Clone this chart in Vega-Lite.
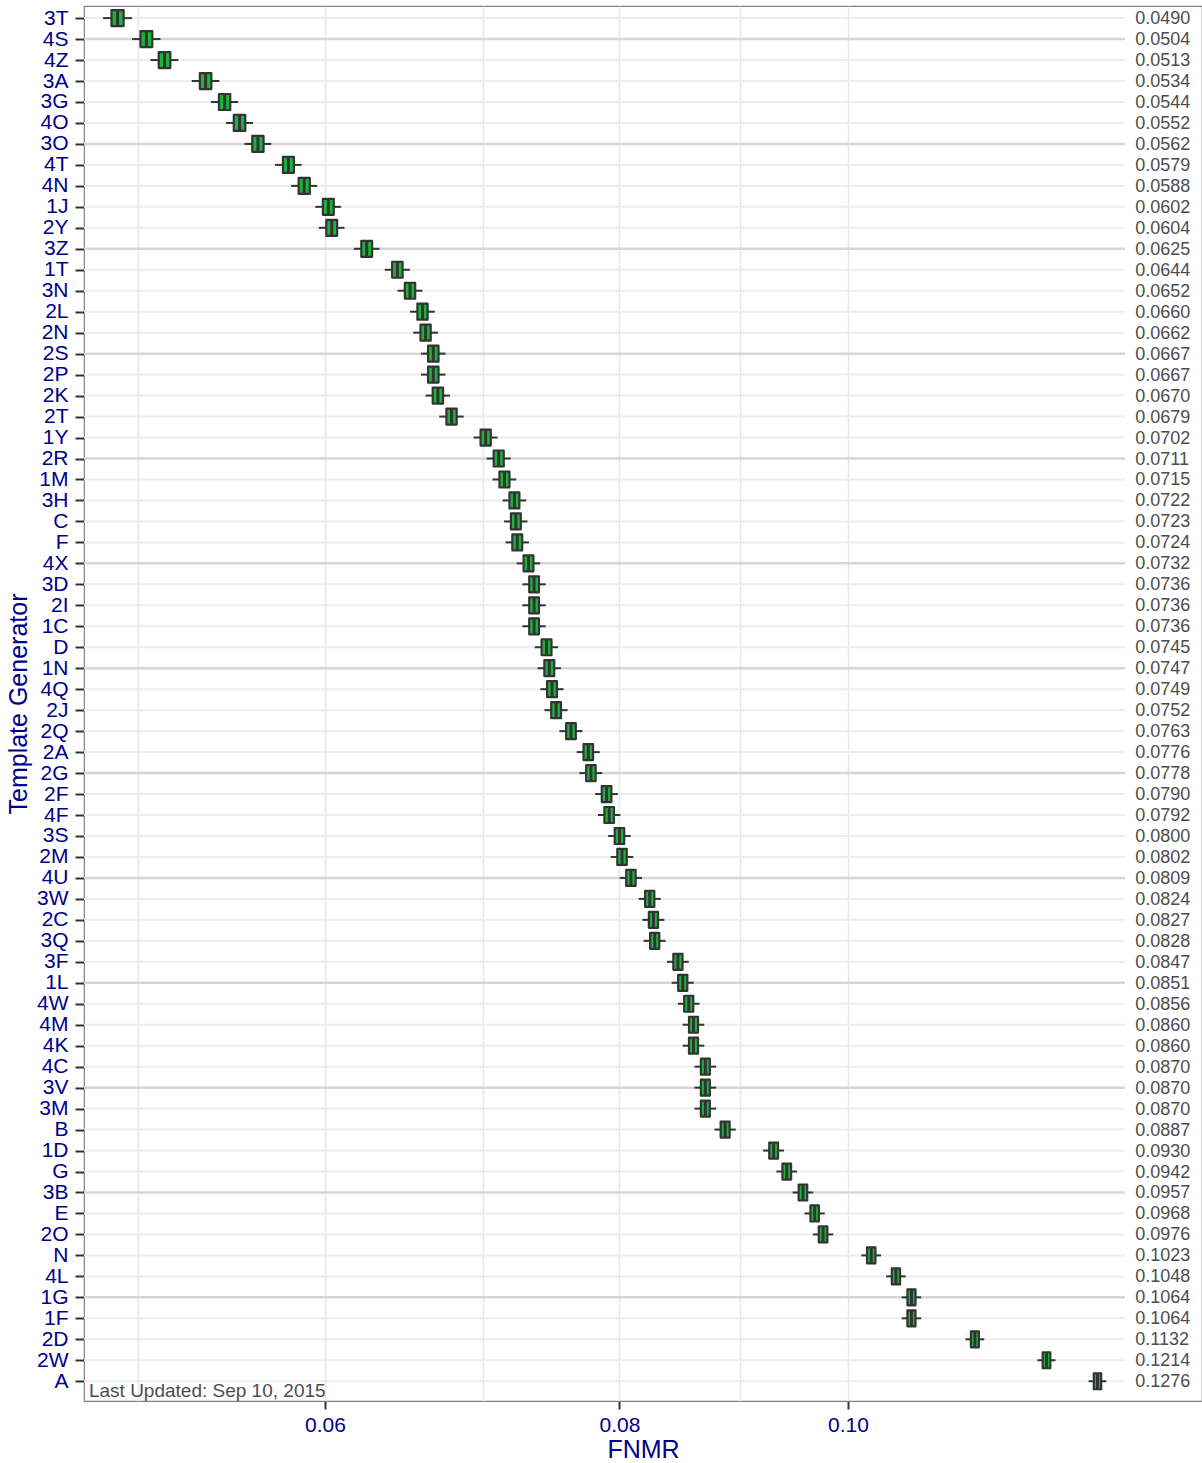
{
  "$schema": "https://vega.github.io/schema/vega-lite/v6.json",
  "autosize": {"type": "none"},
  "padding": {"left": 84, "top": 6, "right": 0, "bottom": 62},
  "width": 1118,
  "height": 1395,
  "background": "white",
  "config": {
    "font": "Liberation Sans",
    "view": {"stroke": "#808080", "strokeWidth": 1.2}
  },
  "data": {"values": [
    {"g": "3T", "fnmr": 0.0490, "lo": 0.04831, "q1": 0.04871, "q3": 0.04929, "hi": 0.04969},
    {"g": "4S", "fnmr": 0.0504, "lo": 0.04970, "q1": 0.05011, "q3": 0.05069, "hi": 0.05110},
    {"g": "4Z", "fnmr": 0.0513, "lo": 0.05060, "q1": 0.05101, "q3": 0.05159, "hi": 0.05200},
    {"g": "3A", "fnmr": 0.0534, "lo": 0.05268, "q1": 0.05310, "q3": 0.05370, "hi": 0.05412},
    {"g": "3G", "fnmr": 0.0544, "lo": 0.05368, "q1": 0.05410, "q3": 0.05470, "hi": 0.05512},
    {"g": "4O", "fnmr": 0.0552, "lo": 0.05447, "q1": 0.05489, "q3": 0.05551, "hi": 0.05593},
    {"g": "3O", "fnmr": 0.0562, "lo": 0.05546, "q1": 0.05589, "q3": 0.05651, "hi": 0.05694},
    {"g": "4T", "fnmr": 0.0579, "lo": 0.05715, "q1": 0.05759, "q3": 0.05821, "hi": 0.05865},
    {"g": "4N", "fnmr": 0.0588, "lo": 0.05805, "q1": 0.05848, "q3": 0.05912, "hi": 0.05955},
    {"g": "1J", "fnmr": 0.0602, "lo": 0.05944, "q1": 0.05988, "q3": 0.06052, "hi": 0.06096},
    {"g": "2Y", "fnmr": 0.0604, "lo": 0.05964, "q1": 0.06008, "q3": 0.06072, "hi": 0.06116},
    {"g": "3Z", "fnmr": 0.0625, "lo": 0.06172, "q1": 0.06217, "q3": 0.06283, "hi": 0.06328},
    {"g": "1T", "fnmr": 0.0644, "lo": 0.06361, "q1": 0.06407, "q3": 0.06473, "hi": 0.06519},
    {"g": "3N", "fnmr": 0.0652, "lo": 0.06441, "q1": 0.06487, "q3": 0.06553, "hi": 0.06599},
    {"g": "2L", "fnmr": 0.0660, "lo": 0.06520, "q1": 0.06567, "q3": 0.06633, "hi": 0.06680},
    {"g": "2N", "fnmr": 0.0662, "lo": 0.06540, "q1": 0.06587, "q3": 0.06653, "hi": 0.06700},
    {"g": "2S", "fnmr": 0.0667, "lo": 0.06590, "q1": 0.06636, "q3": 0.06704, "hi": 0.06750},
    {"g": "2P", "fnmr": 0.0667, "lo": 0.06590, "q1": 0.06636, "q3": 0.06704, "hi": 0.06750},
    {"g": "2K", "fnmr": 0.0670, "lo": 0.06620, "q1": 0.06666, "q3": 0.06734, "hi": 0.06780},
    {"g": "2T", "fnmr": 0.0679, "lo": 0.06709, "q1": 0.06756, "q3": 0.06824, "hi": 0.06871},
    {"g": "1Y", "fnmr": 0.0702, "lo": 0.06938, "q1": 0.06985, "q3": 0.07055, "hi": 0.07102},
    {"g": "2R", "fnmr": 0.0711, "lo": 0.07027, "q1": 0.07075, "q3": 0.07145, "hi": 0.07193},
    {"g": "1M", "fnmr": 0.0715, "lo": 0.07067, "q1": 0.07115, "q3": 0.07185, "hi": 0.07233},
    {"g": "3H", "fnmr": 0.0722, "lo": 0.07137, "q1": 0.07185, "q3": 0.07255, "hi": 0.07303},
    {"g": "C", "fnmr": 0.0723, "lo": 0.07147, "q1": 0.07195, "q3": 0.07265, "hi": 0.07313},
    {"g": "F", "fnmr": 0.0724, "lo": 0.07157, "q1": 0.07205, "q3": 0.07275, "hi": 0.07323},
    {"g": "4X", "fnmr": 0.0732, "lo": 0.07236, "q1": 0.07285, "q3": 0.07355, "hi": 0.07404},
    {"g": "3D", "fnmr": 0.0736, "lo": 0.07276, "q1": 0.07325, "q3": 0.07395, "hi": 0.07444},
    {"g": "2I", "fnmr": 0.0736, "lo": 0.07276, "q1": 0.07325, "q3": 0.07395, "hi": 0.07444},
    {"g": "1C", "fnmr": 0.0736, "lo": 0.07276, "q1": 0.07325, "q3": 0.07395, "hi": 0.07444},
    {"g": "D", "fnmr": 0.0745, "lo": 0.07365, "q1": 0.07414, "q3": 0.07486, "hi": 0.07535},
    {"g": "1N", "fnmr": 0.0747, "lo": 0.07385, "q1": 0.07434, "q3": 0.07506, "hi": 0.07555},
    {"g": "4Q", "fnmr": 0.0749, "lo": 0.07405, "q1": 0.07454, "q3": 0.07526, "hi": 0.07575},
    {"g": "2J", "fnmr": 0.0752, "lo": 0.07435, "q1": 0.07484, "q3": 0.07556, "hi": 0.07605},
    {"g": "2Q", "fnmr": 0.0763, "lo": 0.07544, "q1": 0.07594, "q3": 0.07666, "hi": 0.07716},
    {"g": "2A", "fnmr": 0.0776, "lo": 0.07673, "q1": 0.07724, "q3": 0.07796, "hi": 0.07847},
    {"g": "2G", "fnmr": 0.0778, "lo": 0.07693, "q1": 0.07744, "q3": 0.07816, "hi": 0.07867},
    {"g": "2F", "fnmr": 0.0790, "lo": 0.07813, "q1": 0.07863, "q3": 0.07937, "hi": 0.07987},
    {"g": "4F", "fnmr": 0.0792, "lo": 0.07833, "q1": 0.07883, "q3": 0.07957, "hi": 0.08007},
    {"g": "3S", "fnmr": 0.0800, "lo": 0.07912, "q1": 0.07963, "q3": 0.08037, "hi": 0.08088},
    {"g": "2M", "fnmr": 0.0802, "lo": 0.07932, "q1": 0.07983, "q3": 0.08057, "hi": 0.08108},
    {"g": "4U", "fnmr": 0.0809, "lo": 0.08002, "q1": 0.08053, "q3": 0.08127, "hi": 0.08178},
    {"g": "3W", "fnmr": 0.0824, "lo": 0.08151, "q1": 0.08203, "q3": 0.08277, "hi": 0.08329},
    {"g": "2C", "fnmr": 0.0827, "lo": 0.08181, "q1": 0.08233, "q3": 0.08307, "hi": 0.08359},
    {"g": "3Q", "fnmr": 0.0828, "lo": 0.08191, "q1": 0.08243, "q3": 0.08317, "hi": 0.08369},
    {"g": "3F", "fnmr": 0.0847, "lo": 0.08380, "q1": 0.08432, "q3": 0.08508, "hi": 0.08560},
    {"g": "1L", "fnmr": 0.0851, "lo": 0.08419, "q1": 0.08472, "q3": 0.08548, "hi": 0.08601},
    {"g": "4W", "fnmr": 0.0856, "lo": 0.08469, "q1": 0.08522, "q3": 0.08598, "hi": 0.08651},
    {"g": "4M", "fnmr": 0.0860, "lo": 0.08509, "q1": 0.08562, "q3": 0.08638, "hi": 0.08691},
    {"g": "4K", "fnmr": 0.0860, "lo": 0.08509, "q1": 0.08562, "q3": 0.08638, "hi": 0.08691},
    {"g": "4C", "fnmr": 0.0870, "lo": 0.08608, "q1": 0.08662, "q3": 0.08738, "hi": 0.08792},
    {"g": "3V", "fnmr": 0.0870, "lo": 0.08608, "q1": 0.08662, "q3": 0.08738, "hi": 0.08792},
    {"g": "3M", "fnmr": 0.0870, "lo": 0.08608, "q1": 0.08662, "q3": 0.08738, "hi": 0.08792},
    {"g": "B", "fnmr": 0.0887, "lo": 0.08778, "q1": 0.08831, "q3": 0.08909, "hi": 0.08962},
    {"g": "1D", "fnmr": 0.0930, "lo": 0.09205, "q1": 0.09260, "q3": 0.09340, "hi": 0.09395},
    {"g": "G", "fnmr": 0.0942, "lo": 0.09325, "q1": 0.09380, "q3": 0.09460, "hi": 0.09515},
    {"g": "3B", "fnmr": 0.0957, "lo": 0.09474, "q1": 0.09530, "q3": 0.09610, "hi": 0.09666},
    {"g": "E", "fnmr": 0.0968, "lo": 0.09584, "q1": 0.09640, "q3": 0.09720, "hi": 0.09776},
    {"g": "2O", "fnmr": 0.0976, "lo": 0.09663, "q1": 0.09719, "q3": 0.09801, "hi": 0.09857},
    {"g": "N", "fnmr": 0.1023, "lo": 0.10131, "q1": 0.10188, "q3": 0.10272, "hi": 0.10329},
    {"g": "4L", "fnmr": 0.1048, "lo": 0.10380, "q1": 0.10438, "q3": 0.10522, "hi": 0.10580},
    {"g": "1G", "fnmr": 0.1064, "lo": 0.10539, "q1": 0.10598, "q3": 0.10682, "hi": 0.10741},
    {"g": "1F", "fnmr": 0.1064, "lo": 0.10539, "q1": 0.10598, "q3": 0.10682, "hi": 0.10741},
    {"g": "2D", "fnmr": 0.1132, "lo": 0.11216, "q1": 0.11276, "q3": 0.11364, "hi": 0.11424},
    {"g": "2W", "fnmr": 0.1214, "lo": 0.12032, "q1": 0.12095, "q3": 0.12185, "hi": 0.12248},
    {"g": "A", "fnmr": 0.1276, "lo": 0.12649, "q1": 0.12714, "q3": 0.12806, "hi": 0.12871}
  ]},
  "encoding": {
    "y": {
      "field": "g", "type": "nominal", "sort": null,
      "scale": {"type": "point", "padding": 0.76, "align": 0.38},
      "axis": {
        "title": "Template Generator", "titleFontSize": 25, "titleFontWeight": "normal", "titleColor": "#00008B", "titlePadding": 5,
        "labelFontSize": 21, "labelColor": "#00008B", "labelPadding": 7,
        "tickColor": "#333333", "tickWidth": 2, "tickSize": 9,
        "domain": false, "grid": false
      }
    }
  },
  "layer": [
    {
      "mark": {"type": "rule"},
      "encoding": {
        "x": {"datum": 0.04742, "type": "quantitative", "scale": {"type": "log", "domain": [0.04742, 0.14131], "nice": false, "zero": false},
          "axis": {
            "title": "FNMR", "titleFontSize": 25, "titleFontWeight": "normal", "titleColor": "#00008B", "titlePadding": 2,
            "values": [0.05, 0.06, 0.07, 0.08, 0.09, 0.1],
            "labelExpr": "indexof([0.06, 0.08, 0.1], datum.value) >= 0 ? format(datum.value, '.2f') : ''",
            "labelFontSize": 21, "labelColor": "#00008B", "labelPadding": 5,
            "tickColor": "#333333", "tickWidth": 2, "tickSize": 8,
            "tickOpacity": {"condition": {"test": "indexof([0.06, 0.08, 0.1], datum.value) >= 0", "value": 1}, "value": 0},
            "grid": true, "gridColor": "#E8E8E8", "gridWidth": 1.5,
            "domain": false
          }
        },
        "x2": {"datum": 0.13107},
        "color": {"condition": {"test": "indexof(['4S','3O','3Z','2S','2R','4X','1N','2G','4U','1L','3V','3B','1G'], datum.g) >= 0", "value": "#D6D6D6"}, "value": "#EDEDED"},
        "strokeWidth": {"condition": {"test": "indexof(['4S','3O','3Z','2S','2R','4X','1N','2G','4U','1L','3V','3B','1G'], datum.g) >= 0", "value": 2.5}, "value": 2}
      }
    },
    {
      "mark": {"type": "rule", "color": "#333333", "strokeWidth": 2},
      "encoding": {
        "x": {"field": "lo", "type": "quantitative", "scale": {"type": "log", "domain": [0.04742, 0.14131], "nice": false, "zero": false}, "axis": {"title": "FNMR"}},
        "x2": {"field": "hi"}
      }
    },
    {
      "mark": {"type": "bar", "height": 16, "fill": "#1CB43A", "stroke": "#333333", "strokeWidth": 2.2, "strokeJoin": "round"},
      "encoding": {
        "x": {"field": "q1", "type": "quantitative", "scale": {"type": "log", "domain": [0.04742, 0.14131], "nice": false, "zero": false}, "axis": {"title": "FNMR"}},
        "x2": {"field": "q3"}
      }
    },
    {
      "mark": {"type": "tick", "color": "#333333", "thickness": 3, "size": 16, "opacity": 1},
      "encoding": {
        "x": {"field": "fnmr", "type": "quantitative", "scale": {"type": "log", "domain": [0.04742, 0.14131], "nice": false, "zero": false}, "axis": {"title": "FNMR"}}
      }
    },
    {
      "mark": {"type": "text", "align": "left", "baseline": "middle", "fontSize": 18, "color": "#4D4D4D", "dy": 1},
      "encoding": {
        "x": {"datum": 0.1324, "type": "quantitative", "scale": {"type": "log", "domain": [0.04742, 0.14131], "nice": false, "zero": false}, "axis": {"title": "FNMR"}},
        "text": {"field": "fnmr", "type": "quantitative", "format": ".4f"}
      }
    },
    {
      "data": {"values": [{"note": "Last Updated: Sep 10, 2015"}]},
      "mark": {"type": "text", "align": "left", "baseline": "alphabetic", "fontSize": 19, "color": "#4D4D4D", "dy": 16},
      "encoding": {
        "x": {"datum": 0.04765, "type": "quantitative", "scale": {"type": "log", "domain": [0.04742, 0.14131], "nice": false, "zero": false}, "axis": {"title": "FNMR"}},
        "y": {"datum": "A", "type": "nominal"},
        "text": {"field": "note", "type": "nominal"}
      }
    }
  ]
}
